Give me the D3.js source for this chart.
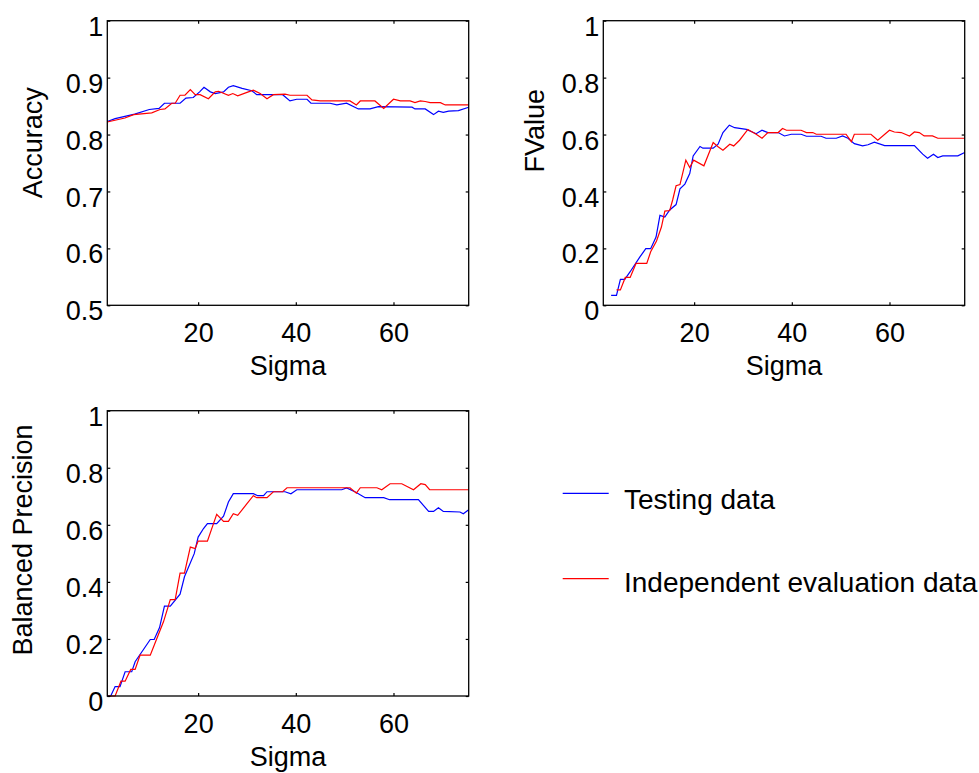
<!DOCTYPE html>
<html>
<head>
<meta charset="utf-8">
<script src="https://cdnjs.cloudflare.com/ajax/libs/d3/7.8.5/d3.min.js"></script>
<style>
  body { margin: 0; background: #fff; }
  svg text { font-family: "Liberation Sans", Arial, sans-serif; fill: #000; }
</style>
</head>
<body>
<div id="chart"></div>
<script>
// axis settings shared by the panels
const sigmaDomain = [1.4, 75.4];
const sigmaTicks = [20, 40, 60];
const accuracyTicks = [0.5, 0.6, 0.7, 0.8, 0.9, 1];
const rateTicks = [0, 0.2, 0.4, 0.6, 0.8, 1];
const seriesNames = ["Testing data", "Independent evaluation data"];
const seriesColors = ["#0000ff", "#ff0000"];

// [sigma, value] pairs
const accTesting = [
  [1.4, 0.823], [3, 0.828], [5, 0.832], [7, 0.836], [10, 0.844], [12, 0.846], [13.1, 0.855],
  [16.3, 0.855], [17.5, 0.864], [19, 0.865], [20.3, 0.875], [21.2, 0.883], [22.5, 0.875],
  [23.5, 0.872], [25.2, 0.875], [26.2, 0.883], [27.2, 0.886], [29, 0.881], [31, 0.877],
  [32, 0.870], [37.3, 0.870], [38.8, 0.859], [40.2, 0.862], [42.3, 0.862], [43.1, 0.855],
  [47, 0.855], [48.4, 0.852], [50.4, 0.855], [52.8, 0.845], [55.2, 0.845], [56.9, 0.849],
  [63.8, 0.848], [64.4, 0.845], [66.5, 0.845], [68.2, 0.835], [69.2, 0.841], [70.2, 0.839],
  [71.3, 0.841], [73.3, 0.842], [75.4, 0.848]
];
const accIndependent = [
  [1.4, 0.822], [5, 0.829], [6.8, 0.835], [10.5, 0.838], [12.2, 0.844], [13.2, 0.845],
  [14.6, 0.855], [15.3, 0.855], [16.3, 0.869], [17.3, 0.869], [18.4, 0.879], [19.4, 0.870],
  [20.4, 0.870], [22.1, 0.863], [23.5, 0.875], [24.2, 0.876], [26.2, 0.869], [27.1, 0.872],
  [28.1, 0.868], [30, 0.874], [31.3, 0.878], [32.7, 0.872], [34.1, 0.863], [35.4, 0.870],
  [37.8, 0.871], [38.8, 0.869], [42.3, 0.869], [43.3, 0.861], [45, 0.859], [51.1, 0.859],
  [52.4, 0.852], [53.2, 0.859], [56.2, 0.859], [58, 0.846], [60, 0.862], [61.4, 0.859],
  [63.4, 0.859], [64.4, 0.856], [65.5, 0.859], [66.5, 0.858], [67.5, 0.856], [69.6, 0.856],
  [70.6, 0.852], [75.4, 0.852]
];
const fvTesting = [
  [3, 0.035], [4.1, 0.035], [4.9, 0.091], [5.8, 0.091], [6.9, 0.118], [8.9, 0.170],
  [10.1, 0.199], [11.1, 0.199], [12.2, 0.240], [13, 0.316], [14, 0.310], [15, 0.335],
  [16.3, 0.354], [17.1, 0.409], [18.1, 0.426], [19.1, 0.463], [19.8, 0.525], [21.2, 0.558],
  [21.8, 0.552], [23.9, 0.552], [24.9, 0.566], [25.9, 0.607], [27.2, 0.633], [28.3, 0.624],
  [30.7, 0.618], [32.7, 0.603], [33.9, 0.615], [35.1, 0.607], [37.2, 0.607], [38.5, 0.595],
  [39.9, 0.601], [41.9, 0.601], [43, 0.594], [46, 0.594], [47, 0.587], [49.1, 0.587],
  [50.4, 0.595], [51.5, 0.587], [52.8, 0.568], [54.5, 0.560], [55.6, 0.564], [56.9, 0.573],
  [59, 0.561], [65.1, 0.561], [66.8, 0.531], [67.8, 0.517], [69, 0.531], [69.9, 0.519],
  [70.9, 0.525], [74, 0.525], [75.4, 0.537]
];
const fvIndependent = [
  [4.1, 0.054], [4.9, 0.054], [5.9, 0.098], [6.9, 0.098], [8.1, 0.147], [10.3, 0.147],
  [11.1, 0.188], [12.3, 0.226], [13.3, 0.275], [14, 0.331], [15, 0.333], [15.6, 0.370],
  [16.3, 0.420], [17.1, 0.424], [18.3, 0.510], [19.1, 0.484], [19.9, 0.510], [22, 0.490],
  [23.9, 0.572], [24.9, 0.557], [25.9, 0.545], [27.3, 0.566], [28.1, 0.560], [29.3, 0.580],
  [31, 0.618], [32.7, 0.601], [33.9, 0.587], [35.1, 0.607], [37.2, 0.607], [38.1, 0.621],
  [38.9, 0.615], [41.9, 0.615], [43, 0.607], [44.3, 0.607], [45, 0.601], [51.1, 0.601],
  [52.2, 0.575], [52.8, 0.601], [56.2, 0.601], [57.6, 0.580], [60, 0.615], [61, 0.609],
  [62.4, 0.607], [64.1, 0.595], [65.1, 0.609], [66.1, 0.607], [67.1, 0.595], [68.8, 0.595],
  [69.9, 0.587], [75.4, 0.587]
];
const bpTesting = [
  [1.4, 0], [2.1, 0], [3, 0.033], [4, 0.033], [5.05, 0.085], [6.4, 0.085], [7.1, 0.120],
  [10.2, 0.198], [11, 0.198], [12.1, 0.240], [13.1, 0.315], [14.3, 0.315], [16.3, 0.357],
  [17.2, 0.418], [19.2, 0.499], [20, 0.557], [21.1, 0.587], [21.9, 0.604], [23.8, 0.604],
  [25.2, 0.630], [26.2, 0.680], [27.2, 0.709], [31.3, 0.709], [32.2, 0.702], [33.4, 0.702],
  [34.1, 0.716], [37.8, 0.716], [39, 0.709], [40.2, 0.723], [49.4, 0.723], [50.4, 0.729],
  [52.2, 0.715], [54.2, 0.695], [58, 0.695], [59.2, 0.688], [65.1, 0.688], [67.2, 0.647],
  [68.2, 0.647], [69.2, 0.660], [70.2, 0.647], [73.6, 0.645], [74.3, 0.639], [75.4, 0.653]
];
const bpIndependent = [
  [1.4, 0], [3, 0], [4.2, 0.052], [5.05, 0.052], [6.2, 0.093], [7.1, 0.093], [8.1, 0.143],
  [10.2, 0.143], [11, 0.178], [12.9, 0.260], [14.3, 0.338], [15.3, 0.338], [16.3, 0.431],
  [17.2, 0.431], [18.4, 0.522], [19.4, 0.517], [20, 0.543], [21.9, 0.543], [23.8, 0.637],
  [25.2, 0.612], [26.2, 0.612], [27.2, 0.639], [28.1, 0.633], [30, 0.674], [31.3, 0.702],
  [32, 0.695], [34.1, 0.695], [35.4, 0.716], [37.3, 0.716], [38.2, 0.730], [51.1, 0.730],
  [52.4, 0.711], [53.2, 0.730], [56.6, 0.730], [57.6, 0.723], [59.3, 0.744], [61.7, 0.744],
  [64.1, 0.723], [65.6, 0.744], [66.5, 0.741], [67.4, 0.723], [75.4, 0.723]
];

const fontSize = 27;

class LinePanel {
    constructor(svg, series, config) {
        this.svg = svg;
        this.series = series;
        this.config = config;
        this.initVis();
    }

    initVis() {
        let vis = this;
        const c = vis.config;

        vis.g = vis.svg.append('g')
            .attr('transform', `translate(${c.left},${c.top})`);

        vis.xScale = d3.scaleLinear()
            .domain(sigmaDomain)
            .range([0, c.width]);

        vis.yScale = d3.scaleLinear()
            .domain(c.yDomain)
            .range([c.height, 0]);

        vis.renderVis();
    }

    renderVis() {
        let vis = this;
        const c = vis.config;
        const fmt = d => String(+d.toFixed(1));

        // lines first, box and ticks drawn over them
        const line = d3.line()
            .x(d => vis.xScale(d[0]))
            .y(d => vis.yScale(d[1]));

        vis.g.selectAll('.series')
            .data(vis.series)
            .join('path')
            .attr('class', 'series')
            .attr('fill', 'none')
            .attr('stroke', (d, i) => seriesColors[i])
            .attr('stroke-width', 1.2)
            .attr('d', line);

        // inward ticks on all four sides
        const bottom = vis.g.append('g')
            .attr('transform', `translate(0,${c.height})`)
            .call(d3.axisBottom(vis.xScale).tickValues(sigmaTicks).tickSize(-3).tickSizeOuter(0));
        bottom.selectAll('text')
            .attr('y', 36.5)
            .attr('dy', 0);

        vis.g.append('g')
            .call(d3.axisTop(vis.xScale).tickValues(sigmaTicks).tickSize(-3).tickSizeOuter(0).tickFormat(''));

        const left = vis.g.append('g')
            .call(d3.axisLeft(vis.yScale).tickValues(c.yTicks).tickSize(-3).tickSizeOuter(0).tickFormat(fmt));
        left.selectAll('text')
            .attr('x', -4)
            .attr('dy', '0.54em');

        vis.g.append('g')
            .attr('transform', `translate(${c.width},0)`)
            .call(d3.axisRight(vis.yScale).tickValues(c.yTicks).tickSize(-3).tickSizeOuter(0).tickFormat(''));

        vis.g.selectAll('.domain').remove();
        vis.g.selectAll('.tick line')
            .attr('stroke', '#000')
            .attr('stroke-width', 1.2);
        vis.g.selectAll('.tick text')
            .attr('font-family', null)
            .style('font-size', fontSize + 'px')
            .attr('fill', '#000');

        vis.g.append('rect')
            .attr('width', c.width)
            .attr('height', c.height)
            .attr('fill', 'none')
            .attr('stroke', '#000')
            .attr('stroke-width', 1.3);

        // axis titles
        vis.g.append('text')
            .attr('x', c.width / 2)
            .attr('y', c.height + 70)
            .attr('text-anchor', 'middle')
            .style('font-size', fontSize + 'px')
            .text('Sigma');

        vis.g.append('text')
            .attr('transform', `translate(${c.yLabelX},${c.yLabelY}) rotate(-90)`)
            .attr('text-anchor', 'middle')
            .style('font-size', fontSize + 'px')
            .text(c.yLabel);
    }
}

const svg = d3.select('#chart')
    .append('svg')
    .attr('width', 979)
    .attr('height', 773);

new LinePanel(svg, [accTesting, accIndependent], {
    left: 107.3, top: 20.7, width: 361.4, height: 284.6,
    yDomain: [0.5, 1], yTicks: accuracyTicks,
    yLabel: 'Accuracy', yLabelX: -65.6, yLabelY: 122
});

new LinePanel(svg, [fvTesting, fvIndependent], {
    left: 603.3, top: 20.7, width: 361.4, height: 284.6,
    yDomain: [0, 1], yTicks: rateTicks,
    yLabel: 'FValue', yLabelX: -59, yLabelY: 110
});

new LinePanel(svg, [bpTesting, bpIndependent], {
    left: 107.3, top: 410.7, width: 361.4, height: 285.3,
    yDomain: [0, 1], yTicks: rateTicks,
    yLabel: 'Balanced Precision', yLabelX: -75, yLabelY: 129.3
});

// legend
const legend = svg.append('g')
    .selectAll('g')
    .data(seriesNames)
    .join('g')
    .attr('transform', (d, i) => `translate(562.7,${i === 0 ? 493.3 : 578.7})`);

legend.append('line')
    .attr('x2', 46)
    .attr('stroke', (d, i) => seriesColors[i])
    .attr('stroke-width', 1.2);

legend.append('text')
    .attr('x', 61.3)
    .attr('y', (d, i) => i === 0 ? 16 : 13)
    .style('font-size', '28px')
    .text(d => d);
</script>
</body>
</html>
